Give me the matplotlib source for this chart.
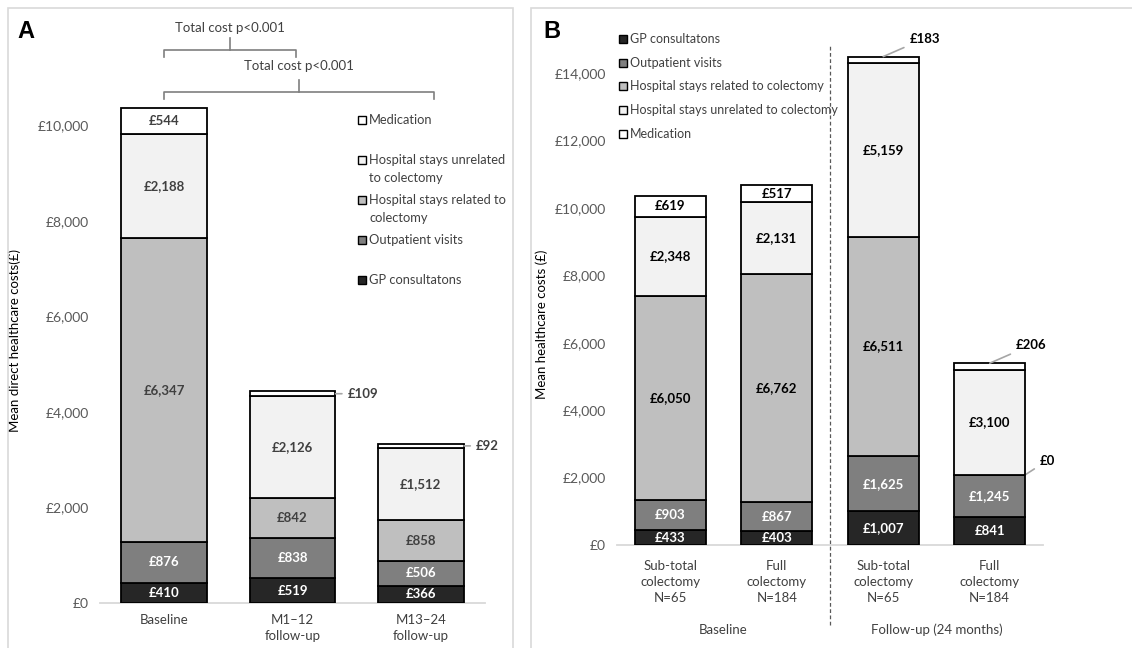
import matplotlib.pyplot as plt
from matplotlib.patches import Rectangle
from matplotlib.ticker import FuncFormatter
from matplotlib.transforms import blended_transform_factory

plt.rcParams['font.family'] = ['Lato', 'DejaVu Sans']

W, H = 1132, 648

# stack order, bottom to top
components = ['GP consultatons', 'Outpatient visits', 'Hospital stays related to colectomy',
              'Hospital stays unrelated to colectomy', 'Medication']
colors = ['#262626', '#7f7f7f', '#bfbfbf', '#f2f2f2', '#ffffff']

# panel A
periods_a = ['Baseline', 'M1\u201312\nfollow-up', 'M13\u201324\nfollow-up']
gp_a = [410, 519, 366]
outpatient_a = [876, 838, 506]
related_a = [6347, 842, 858]
unrelated_a = [2188, 2126, 1512]
medication_a = [544, 109, 92]
legend_a = ['Medication', 'Hospital stays unrelated\nto colectomy', 'Hospital stays related to\ncolectomy',
            'Outpatient visits', 'GP consultatons']

# panel B
groups_b = ['Sub-total\ncolectomy\nN=65', 'Full\ncolectomy\nN=184',
            'Sub-total\ncolectomy\nN=65', 'Full\ncolectomy\nN=184']
periods_b = ['Baseline', 'Follow-up (24 months)']
gp_b = [433, 403, 1007, 841]
outpatient_b = [903, 867, 1625, 1245]
related_b = [6050, 6762, 6511, 0]
unrelated_b = [2348, 2131, 5159, 3100]
medication_b = [619, 517, 183, 206]

TICK_COL = '#595959'
TEXT_COL = '#404040'
LEAD_COL = '#a6a6a6'
BAR_W = 0.67
LAB_FS = 9.5


def fpos(x, y):
    # pixel position -> figure fraction
    return x / W, 1 - y / H


def stacked(ax, series, light_col, top_leader):
    n = len(series[0])
    bottom = [0] * n
    for k, vals in enumerate(series):
        ax.bar(range(n), vals, BAR_W, bottom=bottom, color=colors[k],
               edgecolor='black', linewidth=1.3, zorder=3)
        col = 'white' if k < 2 else light_col
        for i, v in enumerate(vals):
            txt = f'\u00a3{v:,}'
            if v >= 300:
                ax.text(i, bottom[i] + v / 2, txt, ha='center', va='center',
                        fontsize=LAB_FS, fontweight='bold', color=col, zorder=4)
            elif top_leader and k == len(series) - 1:
                ax.annotate(txt, xy=(i, bottom[i] + v), xytext=(26, 18), textcoords='offset pixels',
                            ha='left', va='center', fontsize=LAB_FS, fontweight='bold', color=light_col,
                            arrowprops=dict(arrowstyle='-', color=LEAD_COL, lw=1.2, shrinkA=2, shrinkB=0))
            else:
                y = bottom[i] + v / 2 if v > 0 else bottom[i]
                off = (12, 0) if v > 0 else (14, 14)
                ax.annotate(txt, xy=(i + BAR_W / 2, y), xytext=off, textcoords='offset pixels',
                            ha='left', va='center', fontsize=LAB_FS, fontweight='bold', color=light_col,
                            arrowprops=dict(arrowstyle='-', color=LEAD_COL, lw=1.2, shrinkA=2, shrinkB=0))
        bottom = [b + v for b, v in zip(bottom, vals)]


def style_axis(ax, labels, ymax, ytop, ystep, pad):
    ax.set_xlim(-0.5, len(labels) - 0.5)
    ax.set_ylim(0, ymax)
    ax.set_yticks(range(0, ytop + 1, ystep))
    ax.yaxis.set_major_formatter(FuncFormatter(lambda v, p: f'\u00a3{v:,.0f}'))
    ax.set_xticks(range(len(labels)), labels)
    for s in ['top', 'right', 'left']:
        ax.spines[s].set_visible(False)
    ax.spines['bottom'].set_color('#d9d9d9')
    ax.spines['bottom'].set_linewidth(1.3)
    ax.tick_params(length=0, labelsize=10, labelcolor=TICK_COL)
    ax.tick_params(axis='x', pad=pad, labelcolor=TEXT_COL, labelsize=9.5)
    ax.tick_params(axis='y', pad=8)
    for t in ax.get_xticklabels():
        t.set_linespacing(1.4)


def bracket(ax, x0, x1, y, drop, rise, gap, text):
    xm = (x0 + x1) / 2
    kw = dict(color='#7f7f7f', lw=1.2, clip_on=False)
    ax.plot([x0, x0, x1, x1], [y - drop, y, y, y - drop], **kw)
    ax.plot([xm, xm], [y, y + rise], **kw)
    ax.text(xm, y + rise + gap, text, ha='center', va='center', fontsize=9.5, color=TEXT_COL)


def key(x, y, color, label, fs):
    fig.add_artist(Rectangle((x / W - 4 / W, 1 - y / H - 4 / H), 8 / W, 8 / H, transform=fig.transFigure,
                             facecolor=color, edgecolor='black', linewidth=1.0))
    # first line level with the square, following lines below
    for j, line in enumerate(label.split('\n')):
        fig.text(x / W + 7 / W, 1 - (y + 4 + 18 * j) / H, line, ha='left', va='baseline',
                 fontsize=fs, color=TEXT_COL)


fig = plt.figure(figsize=(W / 100, H / 100), dpi=100)

# panel frames
fig.add_artist(Rectangle(fpos(8, 660), 505 / W, 652 / H, transform=fig.transFigure,
                         fill=False, edgecolor='#d9d9d9', lw=1.2))
fig.add_artist(Rectangle(fpos(531, 660), 610 / W, 652 / H, transform=fig.transFigure,
                         fill=False, edgecolor='#d9d9d9', lw=1.2))

# ---- panel A ----
ax_a = fig.add_axes([100 / W, 45 / H, 385 / W, 583 / H])
stacked(ax_a, [gp_a, outpatient_a, related_a, unrelated_a, medication_a], TEXT_COL, False)
style_axis(ax_a, periods_a, 12200, 10000, 2000, 8)
ax_a.set_ylabel('Mean direct healthcare costs(\u00a3)', fontsize=9.5, color='black')
ax_a.yaxis.set_label_coords(-0.205, 0.45)
bracket(ax_a, 0, 1.03, 11569, 146, 251, 210, 'Total cost p<0.001')
bracket(ax_a, 0, 2.10, 10690, 146, 251, 293, 'Total cost p<0.001')
for i, lab in enumerate(legend_a):
    key(362, 120 + 40 * i, colors[::-1][i], lab, 9.3)
fig.text(*fpos(17, 38), 'A', fontsize=17, fontweight='bold', family='Liberation Sans')

# ---- panel B ----
ax_b = fig.add_axes([617 / W, 103 / H, 426 / W, 525 / H])
stacked(ax_b, [gp_b, outpatient_b, related_b, unrelated_b, medication_b], 'black', True)
style_axis(ax_b, groups_b, 15570, 14000, 2000, 11)
ax_b.set_ylabel('Mean healthcare costs (\u00a3)', fontsize=9.5, color='black')
ax_b.yaxis.set_label_coords(-0.162, 0.42)
tr = blended_transform_factory(ax_b.transData, ax_b.transAxes)
ax_b.plot([1.5, 1.5], [-0.152, 0.952], transform=tr, color=TICK_COL, lw=0.9,
          ls=(0, (3, 2)), clip_on=False)
for j, lab in enumerate(periods_b):
    ax_b.text(2 * j + 0.5, -0.162, lab, transform=tr, ha='center', va='center',
              fontsize=9.5, color=TEXT_COL)
for i, lab in enumerate(components):
    key(623, 39 + 23.7 * i, colors[i], lab, 9)
fig.text(*fpos(543, 38), 'B', fontsize=17, fontweight='bold', family='Liberation Sans')

fig.savefig('out.png', dpi=100)
